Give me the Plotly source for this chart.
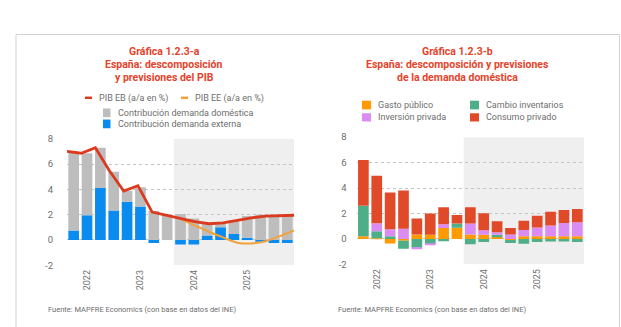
import plotly.graph_objects as go

# Quarters from 4T21 to 4T25 (forecasts from 4T23 onward)
quarters = ["4T21", "1T22", "2T22", "3T22", "4T22", "1T23", "2T23", "3T23",
            "4T23", "1T24", "2T24", "3T24", "4T24", "1T25", "2T25", "3T25", "4T25"]
year_ticks = ["1T22", "1T23", "1T24", "1T25"]
year_labels = ["2022", "2023", "2024", "2025"]
y_ticks = [-2, 0, 2, 4, 6, 8]
y_labels = ["-2", "0", "2", "4", "6", "8"]

# Chart a: GDP decomposition (contributions, pp) and GDP growth scenarios (%)
contrib_externa = [0.74, 1.95, 4.11, 2.33, 3.02, 2.64, -0.25, 0.0, -0.35, -0.35,
                   0.35, 1.0, 0.47, 0.17, -0.1, -0.25, -0.25]
contrib_domestica = [6.16, 4.90, 3.17, 3.05, 0.84, 1.52, 2.28, 1.93, 2.05, 1.70,
                     0.90, 0.35, 1.09, 1.73, 2.0, 2.0, 2.0]
pib_eb = [7.0, 6.85, 7.28, 5.45, 3.86, 4.29, 2.2, 1.95, 1.7, 1.45,
          1.28, 1.35, 1.55, 1.75, 1.88, 1.93, 1.95]
pib_ee = [None, None, None, None, None, None, None, 1.95, 1.65, 1.15,
          0.65, 0.2, -0.22, -0.28, -0.1, 0.3, 0.76]

# Chart b: domestic demand decomposition (pp)
gasto_publico = [0.2, 0.05, -0.37, -0.15, 0.35, 0.33, 0.85, 0.88, 0.35, 0.33,
                 0.18, -0.08, 0.2, 0.2, 0.2, 0.2, 0.2]
cambio_inventarios = [2.4, 0.55, 0.2, -0.62, -0.7, -0.4, -0.18, 0.33, -0.43, -0.25,
                      0.15, -0.25, -0.38, -0.25, -0.2, -0.2, -0.25]
inversion_privada = [0.0, 0.62, 0.55, 0.8, -0.08, -0.1, 0.3, 0.0, 0.85, 0.35,
                     0.2, 0.35, 0.5, 0.7, 0.85, 1.05, 1.1]
consumo_privado = [3.6, 3.75, 2.9, 3.0, 1.25, 1.67, 1.33, 0.67, 1.28, 1.33,
                   0.85, 0.5, 0.72, 0.92, 1.08, 1.03, 1.05]

W, H = 621, 327
FONT = "Roboto"
TITLE_COLOR = "#E5432B"
TEXT_COLOR = "#6E6E6E"
GRID = "#C4C4C4"
SHADE = "#EFEFEF"

C_GRAY = "#BDBDBD"
C_BLUE = "#0A8BEF"
C_RED = "#DC3A1E"
C_ORANGE_LINE = "#F2A23A"
C_GASTO = "#FF9A00"
C_INV = "#DA8CF2"
C_STOCK = "#4DAE88"
C_CONS = "#E04A28"


def px(x):
    return x / W


def py(y):
    return 1 - y / H


fig = go.Figure()

# --- chart a bars
fig.add_bar(x=quarters, y=contrib_externa, marker_color=C_BLUE, marker_line_width=0,
            name="Contribución demanda externa", xaxis="x", yaxis="y")
fig.add_bar(x=quarters, y=contrib_domestica, marker_color=C_GRAY, marker_line_width=0,
            name="Contribución demanda doméstica", xaxis="x", yaxis="y")
# --- chart a lines (on an overlaid axis running edge to edge)
fig.add_scatter(x=quarters, y=pib_ee, mode="lines", line=dict(color=C_ORANGE_LINE, width=2,
                shape="spline", smoothing=0.6), name="PIB EE (a/a en %)", xaxis="x3", yaxis="y")
fig.add_scatter(x=quarters, y=pib_eb, mode="lines", line=dict(color=C_RED, width=2.8),
                name="PIB EB (a/a en %)", xaxis="x3", yaxis="y")

# --- chart b bars
for vals, col, nm in [(gasto_publico, C_GASTO, "Gasto público"),
                      (cambio_inventarios, C_STOCK, "Cambio inventarios"),
                      (inversion_privada, C_INV, "Inversión privada"),
                      (consumo_privado, C_CONS, "Consumo privado")]:
    fig.add_bar(x=quarters, y=vals, marker_color=col, marker_line_width=0, name=nm,
                xaxis="x2", yaxis="y2")

fig.update_traces(showlegend=False, hoverinfo="skip")

axis_x = dict(type="category", categoryorder="array", categoryarray=quarters,
              range=[-0.5, len(quarters) - 0.5], tickmode="array", tickvals=year_ticks,
              ticktext=year_labels, tickangle=-90, showgrid=False, zeroline=False,
              showline=False, ticks="", tickfont=dict(family=FONT, size=9, color=TEXT_COLOR),
              ticklabelstandoff=2, fixedrange=True)
axis_y = dict(range=[-2, 8], tickmode="array", tickvals=y_ticks, ticktext=y_labels,
              showgrid=True, gridcolor=GRID, griddash="dot", gridwidth=1, zeroline=False,
              showline=False, ticks="", tickfont=dict(family=FONT, size=9.5, color=TEXT_COLOR),
              fixedrange=True)

fig.update_layout(
    width=W, height=H, margin=dict(l=0, r=0, t=0, b=0),
    paper_bgcolor="white", plot_bgcolor="rgba(0,0,0,0)",
    barmode="relative", bargap=0.2, showlegend=False,
    font=dict(family=FONT, color=TEXT_COLOR),
    xaxis=dict(axis_x, domain=[px(67), px(294)], anchor="y"),
    yaxis=dict(axis_y, domain=[py(268.3), py(137.3)], anchor="x", ticklabelstandoff=13),
    xaxis3=dict(type="category", categoryorder="array", categoryarray=quarters,
                range=[0, len(quarters) - 1], overlaying="x", anchor="y", visible=False,
                fixedrange=True),
    xaxis2=dict(axis_x, domain=[px(356.7), px(584)], anchor="y2"),
    yaxis2=dict(axis_y, domain=[py(267.3), py(135.7)], anchor="x2", ticklabelstandoff=9),
)

shapes = []
# forecast shading
for xr, yr in [("x", "y"), ("x2", "y2")]:
    shapes.append(dict(type="rect", xref=xr, yref=yr, x0=7.5, x1=len(quarters) - 0.5,
                       y0=-2, y1=8, fillcolor=SHADE, line_width=0, layer="below"))
# outer frame
shapes.append(dict(type="rect", xref="paper", yref="paper", x0=px(16), x1=px(619.5),
                   y0=py(345), y1=py(29.5), line=dict(color="#D2D2D2", width=1),
                   fillcolor="rgba(0,0,0,0)", layer="below"))

annotations = []


def text(x, y, s, size=9, color=TEXT_COLOR, xanchor="left", bold=False):
    annotations.append(dict(x=px(x), y=py(y), xref="paper", yref="paper", text=s,
                            showarrow=False, xanchor=xanchor, yanchor="middle",
                            font=dict(family=FONT, size=size, color=color,
                                      weight="bold" if bold else "normal")))


def line_key(x0, x1, y, color):
    shapes.append(dict(type="line", xref="paper", yref="paper", x0=px(x0), x1=px(x1),
                       y0=py(y), y1=py(y), line=dict(color=color, width=2.5)))


def box_key(x0, y0, x1, y1, color):
    shapes.append(dict(type="rect", xref="paper", yref="paper", x0=px(x0), x1=px(x1),
                       y0=py(y1), y1=py(y0), fillcolor=color, line_width=0))


# titles
for cx, lines in [(164, ["Gráfica 1.2.3-a", "España: descomposición", "y previsiones del PIB"]),
                  (457, ["Gráfica 1.2.3-b", "España: descomposición y previsiones",
                         "de la demanda doméstica"])]:
    for i, s in enumerate(lines):
        text(cx, 47 + i * 13.3, s, size=10.5, color=TITLE_COLOR, xanchor="center", bold=True)

# legend chart a
line_key(85, 92, 95, C_RED)
text(97, 95.5, "PIB EB (a/a en %)")
line_key(181, 188, 95, C_ORANGE_LINE)
text(193, 95.5, "PIB EE (a/a en %)")
box_key(103, 106, 110.5, 115, C_GRAY)
text(116, 110.7, "Contribución demanda doméstica")
box_key(103, 117.5, 110.5, 126.5, C_BLUE)
text(116, 122.3, "Contribución demanda externa")

# legend chart b
box_key(362, 98, 371, 107, C_GASTO)
text(376, 102.7, "Gasto público")
box_key(470, 98, 479, 107, C_STOCK)
text(484, 102.7, "Cambio inventarios")
box_key(362, 111, 371, 119.5, C_INV)
text(376, 115.3, "Inversión privada")
box_key(470, 111, 479, 119.5, C_CONS)
text(484, 115.3, "Consumo privado")

# sources
text(46, 314.5, "Fuente: MAPFRE Economics (con base en datos del INE)", size=7.5)
text(336, 314.5, "Fuente: MAPFRE Economics (con base en datos del INE)", size=7.5)

fig.update_layout(shapes=shapes, annotations=annotations)
fig.write_html("out.html")
